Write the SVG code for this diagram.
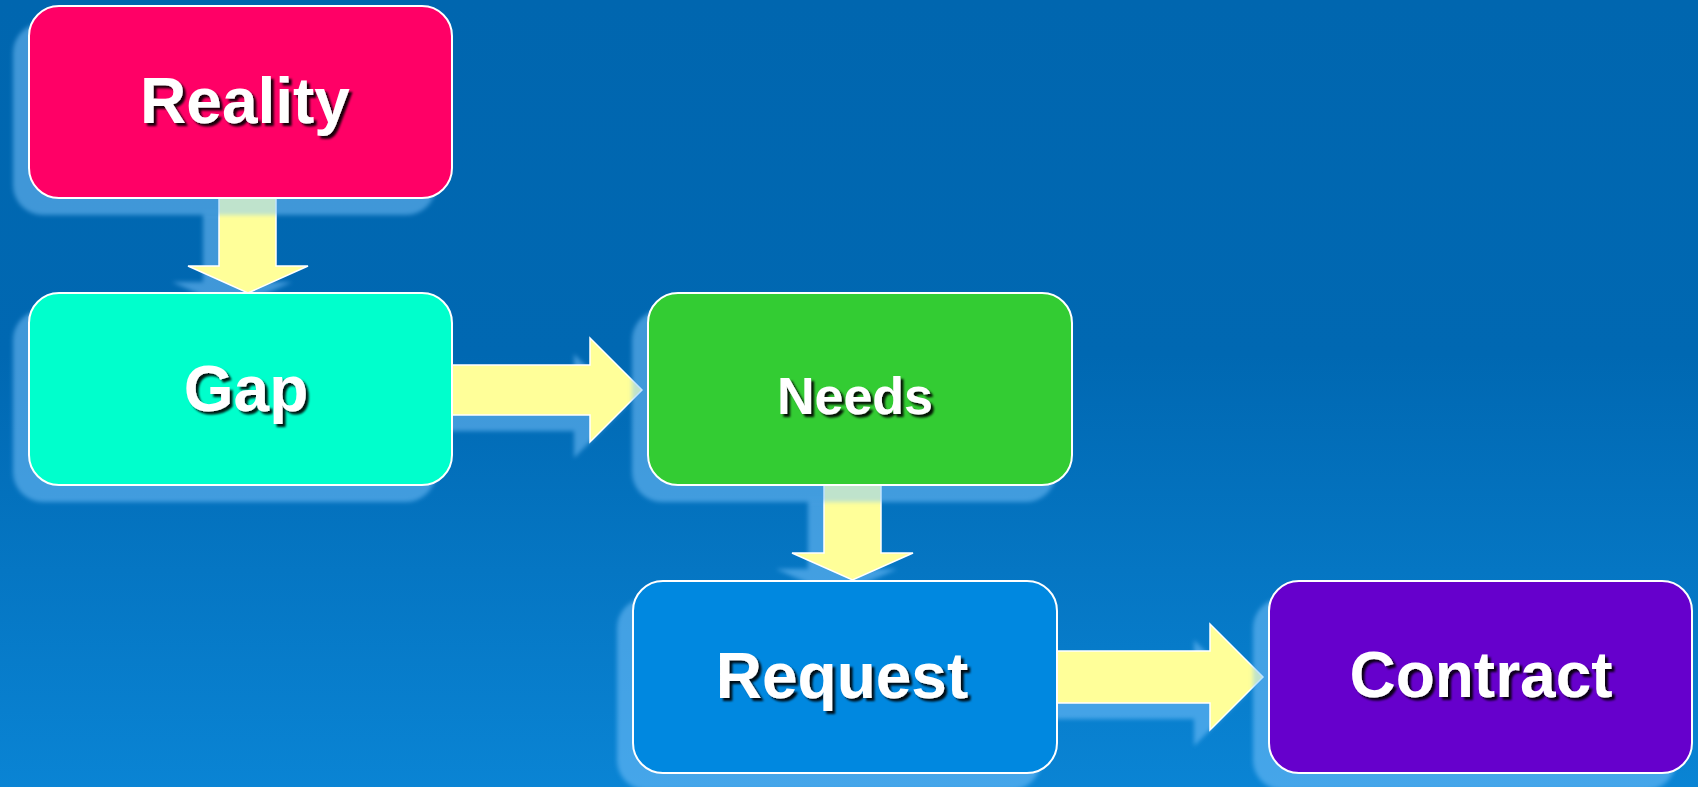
<svg xmlns="http://www.w3.org/2000/svg" width="1698" height="787" viewBox="0 0 1698 787">
  <defs>
    <linearGradient id="bg" x1="0" y1="0" x2="0" y2="1">
      <stop offset="0" stop-color="#0066AF"/>
      <stop offset="0.45" stop-color="#0068B2"/>
      <stop offset="1" stop-color="#0A84D4"/>
    </linearGradient>
    <filter id="soft" x="-10%" y="-10%" width="120%" height="120%">
      <feGaussianBlur stdDeviation="2"/>
    </filter>
    <filter id="textShadow" x="-10%" y="-20%" width="130%" height="150%">
      <feDropShadow dx="3" dy="3" stdDeviation="0.8" flood-color="#000000" flood-opacity="0.9"/>
    </filter>
  </defs>
  <style>
    .shadow { fill: #80C8FF; fill-opacity: 0.5; filter: url(#soft); }
    .arrow { fill: #FFFF99; stroke: #FFFFFF; stroke-width: 1.5; stroke-linejoin: miter; }
    .box { stroke: #FFFFFF; stroke-width: 2; }
    .label { font-family: "Liberation Sans", Arial, sans-serif; font-weight: bold; fill: #FFFFFF; text-anchor: middle; filter: url(#textShadow); }
  </style>

  <rect x="0" y="0" width="1698" height="787" fill="url(#bg)"/>

  <!-- block arrows between the steps -->
  <g id="connectors">
    <g id="reality-to-gap">
      <path class="shadow" d="M203,214 H260 V282 H292 L232,309 L172,282 H203 Z"/>
      <path class="arrow" d="M219,196 H276 V266 H308 L248,293 L188,266 H219 Z"/>
    </g>
    <g id="gap-to-needs">
      <path class="shadow" d="M436,381 H574 V354 L626,406 L574,458 V431 H436 Z"/>
      <path class="arrow" d="M446,365 H590 V338 L642,390 L590,442 V415 H446 Z"/>
    </g>
    <g id="needs-to-request">
      <path class="shadow" d="M808,501 H865 V569 H897 L836.5,596 L776,569 H808 Z"/>
      <path class="arrow" d="M824,483 H881 V553 H913 L852.5,580 L792,553 H824 Z"/>
    </g>
    <g id="request-to-contract">
      <path class="shadow" d="M1034,667 H1194 V640 L1247,693 L1194,746 V719 H1034 Z"/>
      <path class="arrow" d="M1050,651 H1210 V624 L1263,677 L1210,730 V703 H1050 Z"/>
    </g>
  </g>

  <!-- step boxes -->
  <g id="reality">
    <rect class="shadow" x="13" y="23" width="423" height="192" rx="30"/>
    <rect class="box" x="29" y="6" width="423" height="192" rx="30" fill="#FF0066"/>
    <text class="label" x="245" y="123" font-size="64">Reality</text>
  </g>
  <g id="gap">
    <rect class="shadow" x="13" y="310" width="423" height="192" rx="30"/>
    <rect class="box" x="29" y="293" width="423" height="192" rx="30" fill="#00FFCC"/>
    <text class="label" x="246" y="411" font-size="64">Gap</text>
  </g>
  <g id="needs">
    <rect class="shadow" x="632" y="310" width="424" height="192" rx="30"/>
    <rect class="box" x="648" y="293" width="424" height="192" rx="30" fill="#33CC33"/>
    <text class="label" x="855" y="414" font-size="52">Needs</text>
  </g>
  <g id="request">
    <rect class="shadow" x="617" y="598" width="424" height="192" rx="30"/>
    <rect class="box" x="633" y="581" width="424" height="192" rx="30" fill="#0088E0"/>
    <text class="label" x="842" y="698" font-size="64">Request</text>
  </g>
  <g id="contract">
    <rect class="shadow" x="1253" y="598" width="423" height="192" rx="30"/>
    <rect class="box" x="1269" y="581" width="423" height="192" rx="30" fill="#6600CC"/>
    <text class="label" x="1481" y="697" font-size="64">Contract</text>
  </g>
</svg>
